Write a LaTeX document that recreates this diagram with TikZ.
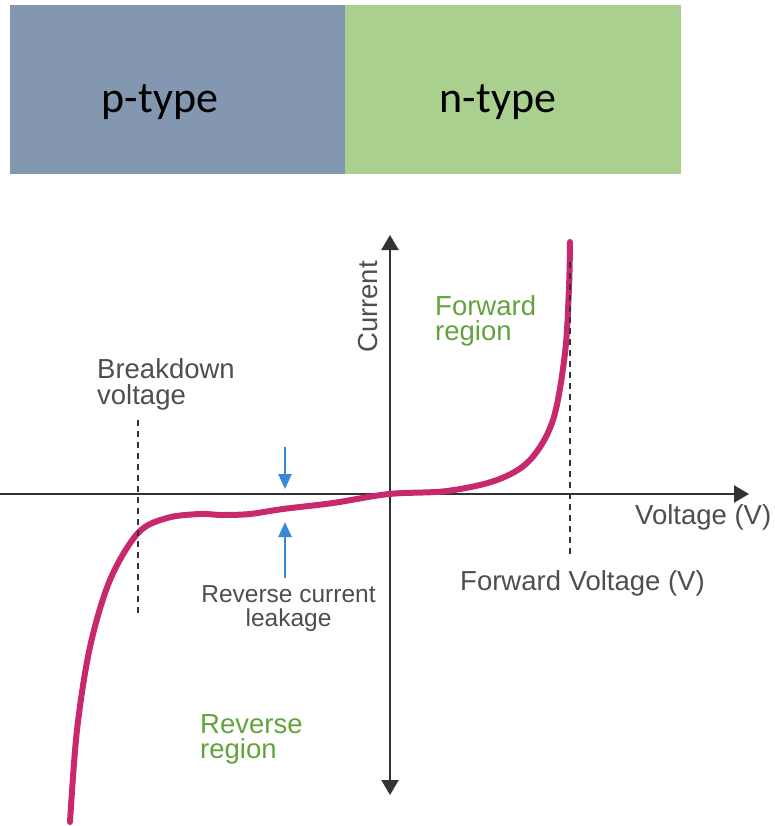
\documentclass[tikz,border=0pt]{standalone}
\usepackage{fontspec}
\setmainfont{Liberation Sans}
\newfontfamily\calib{Carlito}
\usetikzlibrary{arrows.meta}
\definecolor{pcol}{RGB}{131,151,176}
\definecolor{ncol}{RGB}{169,208,142}
\definecolor{axcol}{RGB}{51,51,51}
\definecolor{txtcol}{RGB}{78,78,78}
\definecolor{grn}{RGB}{98,163,60}
\definecolor{mag}{RGB}{200,40,110}
\definecolor{blu}{RGB}{58,134,216}
\tikzset{
  blocktext/.style={font=\calib\fontsize{44}{44}\selectfont, text=black, inner sep=0pt, anchor=base},
  lbl/.style={font=\fontsize{27.5}{27.5}\selectfont, text=txtcol, inner sep=0pt},
  small/.style={font=\fontsize{24.5}{24.5}\selectfont, text=txtcol, inner sep=0pt, anchor=base},
  glbl/.style={lbl, text=grn, anchor=base west},
  axis/.style={draw=axcol, line width=2.2pt, -{Triangle[length=15pt,width=17pt]}},
  dsh/.style={draw=axcol, line width=2.6pt, dash pattern=on 6pt off 5pt},
  curve/.style={draw=mag, line width=6pt, line cap=round, line join=round},
  blarrow/.style={draw=blu, line width=2.5pt, -{Triangle[length=15pt,width=13pt]}}
}
\begin{document}
\begin{tikzpicture}[x=1pt,y=-1pt]
\useasboundingbox (0,0) rectangle (774,826);
% blocks
\fill[pcol] (10,5) rectangle (345,174);
\fill[ncol] (345,5) rectangle (681,174);
\node[blocktext] (ptype) at (160,113) {p-type};
\node[blocktext] (ntype) at (498,113) {n-type};
% axes
\coordinate (xl) at (0,494);
\coordinate (xr) at (749,494);
\coordinate (yb) at (390,795);
\coordinate (yt) at (390,235);
\coordinate (yc) at (390,494);
\draw[axis] (xl) -- (xr);
\draw[axis] (yc) -- (yt);
\draw[axis] (yc) -- (yb);
% curve
\draw[curve] plot[smooth, tension=0.55] coordinates {
 (70,822) (77,730) (90,647) (110,580) (138,533) (167,518) (200,514)
 (222,515) (250,514) (283,509) (333,503) (389,494) (447,491) (497,480)
 (530,460) (553,420) (565,353) (569,287) (570,242)};
% dashed lines
\coordinate (bd1) at (138,420);
\coordinate (bd2) at (138,616);
\coordinate (fv1) at (570,262);
\coordinate (fv2) at (570,556);
\draw[dsh] (bd1) -- (bd2);
\draw[dsh] (fv1) -- (fv2);
% blue arrows
\coordinate (ba1) at (285,447);
\coordinate (ba2) at (285,489);
\coordinate (ba3) at (285,578);
\coordinate (ba4) at (285,522);
\draw[blarrow] (ba1) -- (ba2);
\draw[blarrow] (ba3) -- (ba4);
% labels
\node[lbl, rotate=90, anchor=base west] (cur) at (377,353) {Current};
\node[glbl] (fw1) at (435,315) {Forward};
\node[glbl] (fw2) at (435,340) {region};
\node[lbl, anchor=base west] (bk1) at (97,378) {Breakdown};
\node[lbl, anchor=base west] (bk2) at (97,404) {voltage};
\node[small] (rc1) at (288.5,602) {Reverse current};
\node[small] (rc2) at (288.5,626) {leakage};
\node[lbl, anchor=base west] (vv) at (635,524) {Voltage (V)};
\node[lbl, anchor=base west] (fvv) at (460,590) {Forward Voltage (V)};
\node[glbl] (rr1) at (200,733) {Reverse};
\node[glbl] (rr2) at (200,758) {region};
\end{tikzpicture}
\end{document}
